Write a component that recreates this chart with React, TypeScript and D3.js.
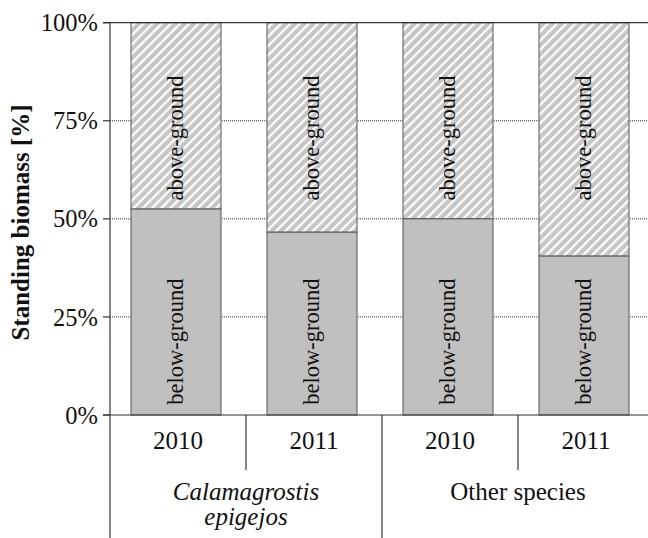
import React from "react";
import * as d3 from "d3";

const years = ["2010", "2011", "2010", "2011"];
const groups = ["Calamagrostis epigejos", "Other species"];
const belowGround = [0.525, 0.466, 0.5, 0.405];
const yTicks = [0, 0.25, 0.5, 0.75, 1];
const gridTicks = [0.25, 0.5, 0.75];

const W = 648;
const H = 538;

export default function App() {
  const x0 = 110;
  const x1 = 654;
  const y = d3.scaleLinear().domain([0, 1]).range([415, 22.7]);
  const x = d3.scaleBand<number>().domain(d3.range(years.length)).range([x0, x1]);
  const bw = x.bandwidth();
  const barW = 90;
  const barOff = 21;
  const fmt = d3.format(".0%");
  const font = "Liberation Serif";
  const axisColor = "#333";
  const aboveLabelY = y(0.706);
  const belowLabelY = y(0.187);
  const groupX = (gi: number) => (x(gi * 2)! + x(gi * 2 + 1)! + bw) / 2;

  return (
    <svg
      width={W}
      height={H}
      style={{ position: "absolute", left: 0, top: 0, background: "#fff", fontFamily: font }}
    >
      <defs>
        <pattern
          id="hatch"
          patternUnits="userSpaceOnUse"
          width={6.5}
          height={6.5}
          patternTransform="rotate(45)"
        >
          <rect width={6.5} height={6.5} fill="#c6c6c6" />
          <rect x={0} y={0} width={2.2} height={6.5} fill="#ffffff" />
        </pattern>
      </defs>

      {gridTicks.map((t) => (
        <line
          key={"g" + t}
          x1={x0}
          x2={W}
          y1={y(t)}
          y2={y(t)}
          stroke="#333"
          strokeWidth={1}
          strokeDasharray="1,1"
        />
      ))}

      {belowGround.map((v, i) => {
        const bx = x(i)! + barOff;
        return (
          <g key={"b" + i}>
            <rect
              x={bx}
              y={y(1)}
              width={barW}
              height={y(v) - y(1)}
              fill="url(#hatch)"
              stroke="#555"
              strokeWidth={1}
            />
            <rect
              x={bx}
              y={y(v)}
              width={barW}
              height={y(0) - y(v)}
              fill="#c0c0c0"
              stroke="#555"
              strokeWidth={1}
            />
            <text
              transform={`translate(${bx + barW / 2},${aboveLabelY}) rotate(-90)`}
              textAnchor="middle"
              dy="0.33em"
              fontSize={22.5}
              fill="#111"
            >
              above-ground
            </text>
            <text
              transform={`translate(${bx + barW / 2},${belowLabelY}) rotate(-90)`}
              textAnchor="middle"
              dy="0.33em"
              fontSize={22.5}
              fill="#111"
            >
              below-ground
            </text>
          </g>
        );
      })}

      <line x1={103} x2={W} y1={y(1)} y2={y(1)} stroke={axisColor} strokeWidth={1.2} />
      <line x1={103} x2={W} y1={y(0)} y2={y(0)} stroke={axisColor} strokeWidth={1.2} />

      <line x1={x0} x2={x0} y1={y(1)} y2={H} stroke={axisColor} strokeWidth={1.2} />
      {yTicks.map((t) => (
        <g key={"t" + t}>
          <line x1={103} x2={x0} y1={y(t)} y2={y(t)} stroke={axisColor} strokeWidth={1.2} />
          <text x={98} y={y(t)} dy="0.35em" textAnchor="end" fontSize={24.5} fill="#111">
            {fmt(t)}
          </text>
        </g>
      ))}
      <text
        transform={`translate(29,${222.5}) rotate(-90)`}
        textAnchor="middle"
        fontSize={25}
        fontWeight="bold"
        fill="#111"
      >
        Standing biomass [%]
      </text>

      {years.map((yr, i) => (
        <g key={"y" + i}>
          <text x={x(i)! + bw / 2} y={449} textAnchor="middle" fontSize={25} fill="#111">
            {yr}
          </text>
          {i > 0 && (
            <line
              x1={x(i)!}
              x2={x(i)!}
              y1={y(0)}
              y2={i % 2 === 0 ? H : 470}
              stroke={axisColor}
              strokeWidth={1.2}
            />
          )}
        </g>
      ))}

      <text x={groupX(0)} y={500} textAnchor="middle" fontSize={25} fontStyle="italic" fill="#111">
        Calamagrostis
      </text>
      <text x={groupX(0)} y={525} textAnchor="middle" fontSize={25} fontStyle="italic" fill="#111">
        epigejos
      </text>
      <text x={groupX(1)} y={500} textAnchor="middle" fontSize={25} fill="#111">
        {groups[1]}
      </text>
    </svg>
  );
}
